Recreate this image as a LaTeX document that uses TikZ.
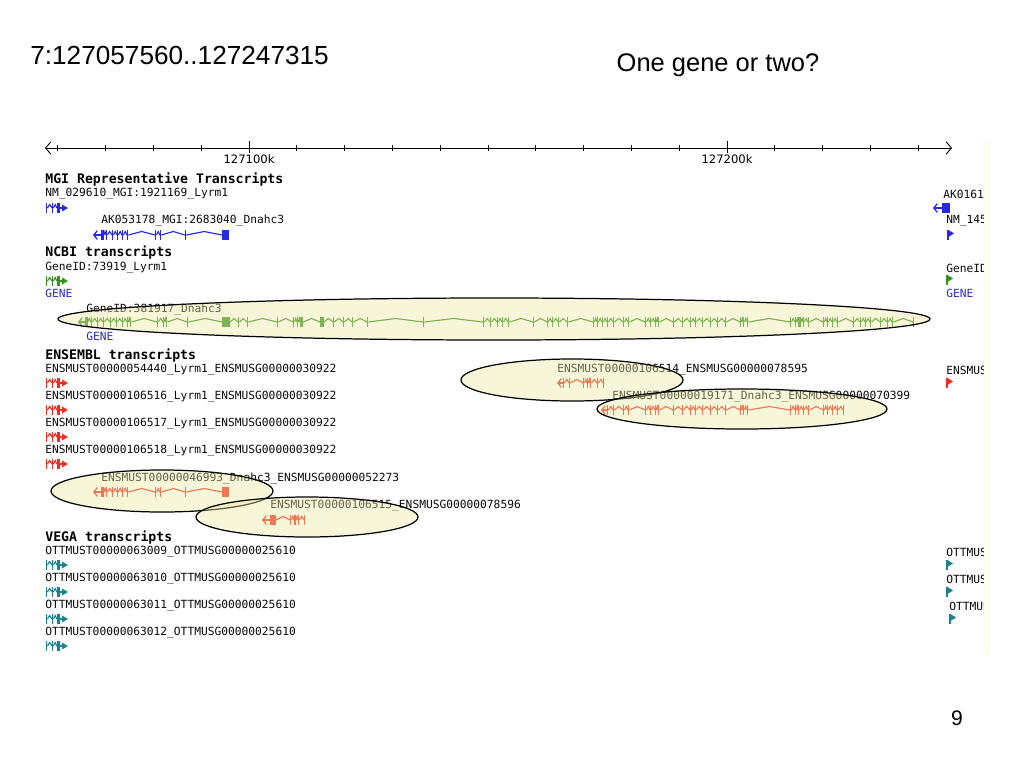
\documentclass[tikz,border=0pt]{standalone}
\usepackage{fontspec}
\setmainfont{Liberation Sans}
\newfontfamily\browserfont{DejaVu Sans Mono}
\newfontfamily\rulerfont{DejaVu Sans}
\usepackage{xcolor}
\usepackage{tikz}
\usetikzlibrary{arrows.meta}
\definecolor{mgiblue}{RGB}{40,40,225}
\definecolor{genetext}{RGB}{40,40,205}
\definecolor{ncbigreen}{RGB}{55,145,35}
\definecolor{ensred}{RGB}{240,45,35}
\definecolor{vegateal}{RGB}{30,130,140}
\definecolor{circfill}{RGB}{238,232,160}
\definecolor{panelcream}{RGB}{252,252,236}
\definecolor{tracktext}{RGB}{10,10,10}

\tikzset{
  trk/.style={anchor=west,inner sep=0pt,text=tracktext,font=\browserfont\fontsize{6.4}{7}\selectfont},
  trkhead/.style={anchor=west,inner sep=0pt,text=black,font=\browserfont\bfseries\fontsize{7.5}{8}\selectfont},
  genetag/.style={trk,text=genetext},
  highlight/.style={draw=black,line width=0.7pt,fill=circfill,fill opacity=0.4},
  barb/.style={-{Straight Barb[length=2pt,width=5pt]},line width=0.7pt},
}

%% exons given as x/width, joined by intron hats
\newcommand{\exonrow}[3]{%
  \gdef\lastend{0}%
  \foreach \xa/\w [count=\i] in {#3} {
    \ifnum\i>1
      \draw[#1,line width=0.65pt] (\lastend,#2) -- ({(\lastend+\xa)/2},#2-3.5) -- (\xa,#2);
    \fi
    \fill[#1] (\xa,#2-5) rectangle ({\xa+\w},#2+5);
    \pgfmathsetmacro\curend{\xa+\w}%
    \global\let\lastend\curend
  }}
%% small Lyrm1 glyph
\newcommand{\lyrmglyph}[2]{%
  \exonrow{#1}{#2}{46/1.4,52/1.4,57/3}
  \draw[#1,line width=0.7pt] (60,#2) -- (62,#2);
  \fill[#1] (62,#2-3.5) -- (68,#2) -- (62,#2+3.5) -- cycle;}
%% flag glyph at the right border
\newcommand{\flagglyph}[3]{%
  \fill[#1] (#2,#3-5) rectangle (#2+1.5,#3+5);
  \fill[#1] (#2+1.5,#3-5) -- (#2+7,#3-1.5) -- (#2+1.5,#3+2) -- cycle;}

\begin{document}
\begin{tikzpicture}[x=0.02cm,y=-0.02cm]
\useasboundingbox (0,0) rectangle (1024,768);
\fill[panelcream] (983,140) rectangle (990,655);

\node[anchor=west,inner sep=0pt,font=\fontsize{14.9}{18}\selectfont] (title) at (30,55) {7:127057560..127247315};
\node[inner sep=0pt,font=\fontsize{14.5}{17}\selectfont] (question) at (718,65) {One gene or two?};
\node[inner sep=0pt,font=\fontsize{12}{14}\selectfont] (pagenum) at (957,718) {9};

%% ruler
\coordinate (rulerL) at (45,148);
\coordinate (rulerR) at (952,148);
\draw[line width=0.5pt,{Straight Barb[length=3pt,width=7pt]}-{Straight Barb[length=3pt,width=7pt]}] (rulerL) -- (rulerR);
\foreach \k in {-4,...,14}
    \draw[line width=0.5pt] (249+47.8*\k,145) -- (249+47.8*\k,151);
\foreach \x/\xtext in {249/127100k, 727/127200k} {
    \draw[line width=0.5pt] (\x,141) -- (\x,153);
    \node[inner sep=0pt,font=\rulerfont\fontsize{6.6}{7}\selectfont] (tick\xtext) at (\x,159) {\xtext};
}

%% MGI
\node[trkhead] (mgihead) at (45,180) {MGI Representative Transcripts};
\node[trk] (mgilyrm) at (45,194) {NM\_029610\_MGI:1921169\_Lyrm1};
\lyrmglyph{mgiblue}{208}
\node[trk] (mgidnah) at (101,221) {AK053178\_MGI:2683040\_Dnahc3};
\draw[mgiblue,barb] (101,235) -- (93,235);
\exonrow{mgiblue}{235}{101/3,106/1.4,112/1.4,117/1.4,122/1.4,127/1.4,155/1.4,160/1.4,185/1.4,222/7}

%% NCBI
\node[trkhead] (ncbihead) at (45,253) {NCBI transcripts};
\node[trk] (ncbilyrm) at (45,268) {GeneID:73919\_Lyrm1};
\lyrmglyph{ncbigreen}{281}
\node[genetag] (gene1) at (45,293) {GENE};
\node[trk] (ncbidnah) at (86,310) {GeneID:381917\_Dnahc3};
\draw[ncbigreen,barb] (85,322) -- (78,322);
\exonrow{ncbigreen}{322}{85/2.5,91/1.4,97/1.4,103/1.4,110/1.4,116/1.4,122/1.4,127/1.4,130/1.4,157/1.4,163/1.4,166/1.4,187/1.4,222/8,238/1.4,247/1.4,277/1.4,293/1.4,297/1.4,300/3,320/4,333/1.4,343/1.4,352/1.4,367/1.4,423/1.4,483/1.4,490/1.4,497/1.4,502/1.4,508/1.4,533/1.4,547/1.4,552/1.4,558/1.4,567/1.4,593/1.4,597/1.4,602/1.4,607/1.4,613/1.4,623/1.4,628/1.4,645/1.4,650/1.4,655/1.4,658/1.4,673/1.4,682/1.4,690/1.4,695/1.4,702/1.4,710/1.4,717/1.4,725/1.4,740/1.4,743/1.4,747/1.4,790/1.4,795/1.4,798/3,803/1.4,808/1.4,823/1.4,827/1.4,832/1.4,837/1.4,853/1.4,860/1.4,865/1.4,870/1.4,880/1.4,887/1.4,892/1.4,913/1.4}
\node[genetag] (gene2) at (86,336) {GENE};

%% ENSEMBL
\node[trkhead] (enshead) at (45,356) {ENSEMBL transcripts};
\foreach \y/\id in {370/00000054440, 397/00000106516, 424/00000106517, 451/00000106518} {
    \node[trk] (ens\y) at (45,\y) {ENSMUST\id\_Lyrm1\_ENSMUSG00000030922};
    \lyrmglyph{ensred}{\y+13}
}
\node[trk] (ens106514) at (557,370) {ENSMUST00000106514\_ENSMUSG00000078595};
\draw[ensred,barb] (563,383) -- (557,383);
\exonrow{ensred}{383}{563/1.4,569/1.4,583/1.4,587/1.4,590/1.4,597/1.4,603/1.4}
\node[trk] (ens19171) at (612,397) {ENSMUST00000019171\_Dnahc3\_ENSMUSG00000070399};
\draw[ensred,barb] (607,410) -- (601,410);
\exonrow{ensred}{410}{607/1.4,613/1.4,623/1.4,628/1.4,645/1.4,650/1.4,655/1.4,658/1.4,673/1.4,682/1.4,690/1.4,695/1.4,702/1.4,710/1.4,717/1.4,725/1.4,740/1.4,743/1.4,747/1.4,790/1.4,795/1.4,798/1.4,803/1.4,808/1.4,823/1.4,827/1.4,832/1.4,837/1.4,843/1.4}
\node[trk] (ens46993) at (101,479) {ENSMUST00000046993\_Dnahc3\_ENSMUSG00000052273};
\draw[ensred,barb] (101,492) -- (93,492);
\exonrow{ensred}{492}{101/3,106/1.4,112/1.4,117/1.4,122/1.4,127/1.4,155/1.4,160/1.4,185/1.4,222/7}
\node[trk] (ens106515) at (270,506) {ENSMUST00000106515\_ENSMUSG00000078596};
\draw[ensred,barb] (270,520) -- (262,520);
\exonrow{ensred}{520}{270/6,290/1.4,294/2,298/1.4,304/1.4}

%% VEGA
\node[trkhead] (vegahead) at (45,538) {VEGA transcripts};
\foreach \y/\id in {552/00000063009, 579/00000063010, 606/00000063011, 633/00000063012} {
    \node[trk] (vega\y) at (45,\y) {OTTMUST\id\_OTTMUSG00000025610};
    \lyrmglyph{vegateal}{\y+13}
}

%% right border, cut off
\begin{scope}
\clip (0,0) rectangle (983,768);
\node[trk] (rmgi1) at (943,194) {AK01613};
\draw[mgiblue,barb] (942,208) -- (933,208);
\fill[mgiblue] (942,203) rectangle (950,213);
\node[trk] (rmgi2) at (946,221) {NM\_145};
\flagglyph{mgiblue}{947}{235}
\node[trk] (rncbi) at (946,268) {GeneID};
\flagglyph{ncbigreen}{946}{280}
\node[genetag] (rgene) at (946,293) {GENE};
\node[trk] (rens) at (946,370) {ENSMUS};
\flagglyph{ensred}{946}{383}
\node[trk] (rvega1) at (946,552) {OTTMUS};
\flagglyph{vegateal}{946}{565}
\node[trk] (rvega2) at (946,579) {OTTMUS};
\flagglyph{vegateal}{946}{592}
\node[trk] (rvega3) at (949,606) {OTTMUS};
\flagglyph{vegateal}{949}{619}
\end{scope}

%% highlights
\draw[highlight] (494,319) ellipse [x radius=436, y radius=21];
\draw[highlight] (572,380) ellipse [x radius=111, y radius=21];
\draw[highlight] (742,409) ellipse [x radius=145, y radius=20];
\draw[highlight] (162,491) ellipse [x radius=111, y radius=21];
\draw[highlight] (307,517) ellipse [x radius=111, y radius=20];
\end{tikzpicture}
\end{document}
